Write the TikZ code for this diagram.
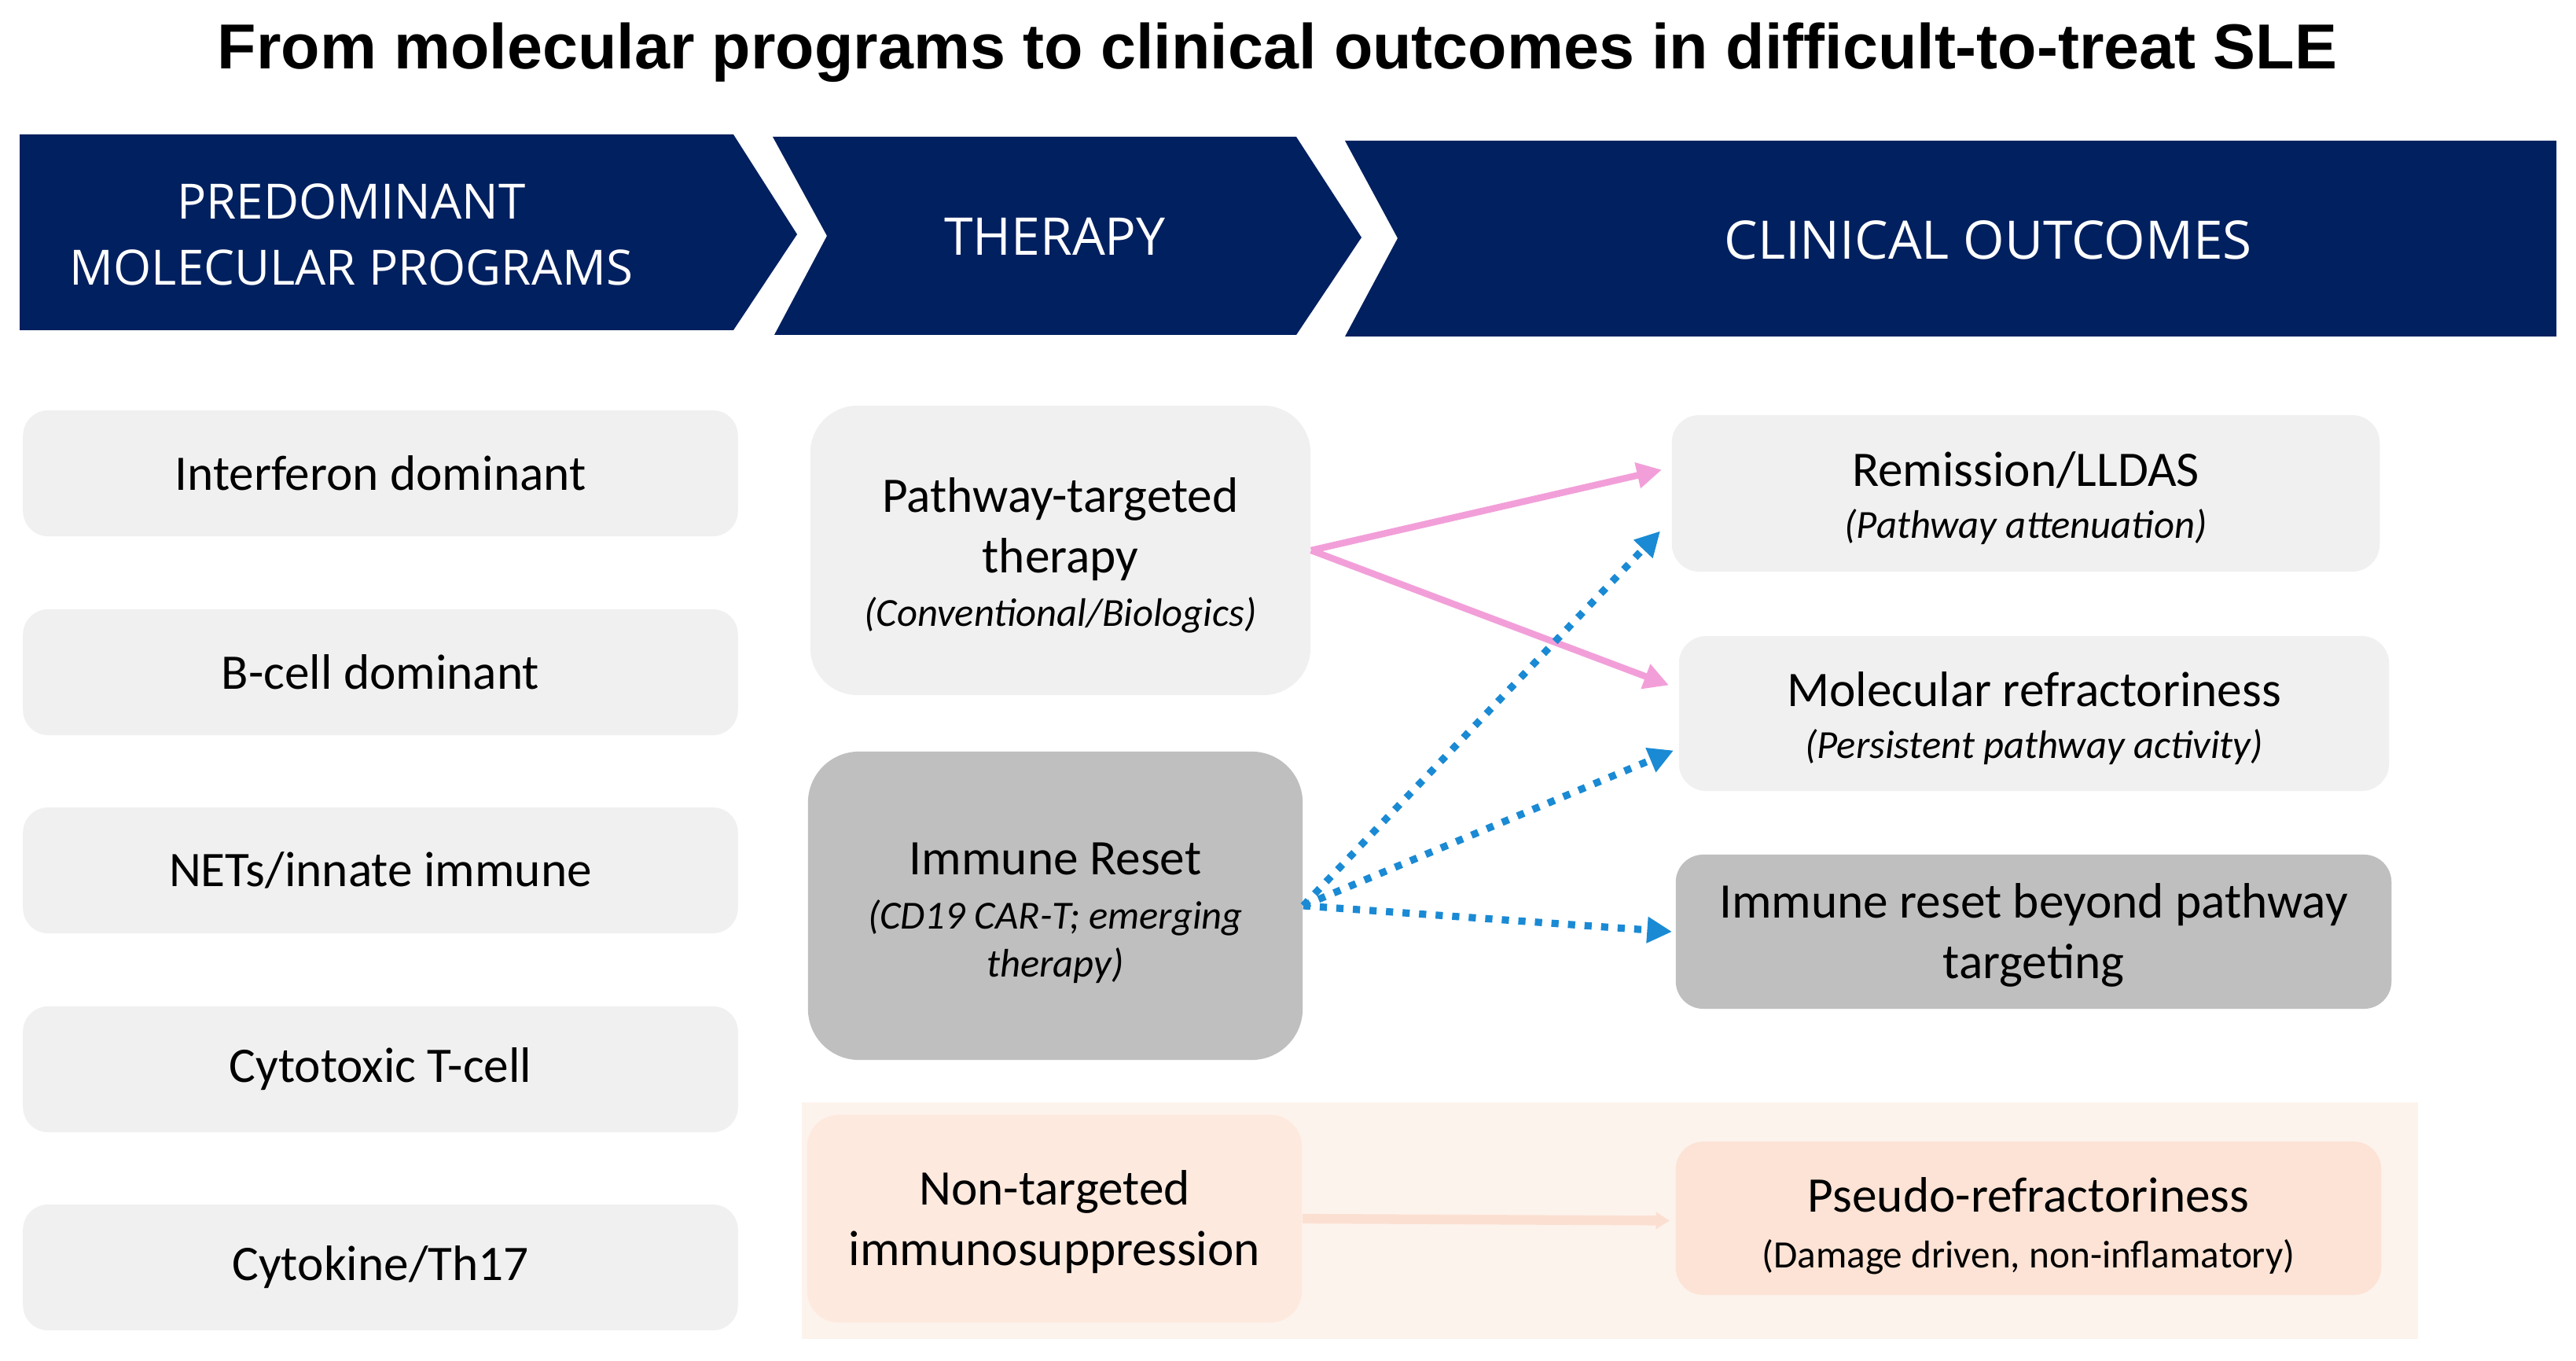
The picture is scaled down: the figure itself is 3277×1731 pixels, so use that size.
\documentclass[tikz,border=0pt]{standalone}
\usepackage{fontspec}
\setmainfont{Carlito}
\newfontfamily\hdrfont{Open Sans}
\newfontfamily\ttlfont{Liberation Sans}
\usetikzlibrary{arrows.meta,calc}
\definecolor{navy}{HTML}{002060}
\definecolor{lgray}{HTML}{F0F0F0}
\definecolor{dgray}{HTML}{BFBFBF}
\definecolor{peachA}{HTML}{FDE9DE}
\definecolor{peachB}{HTML}{FCE3D5}
\definecolor{hatchbg}{HTML}{FDF3ED}
\definecolor{peacharrc}{HTML}{FBE0D2}
\definecolor{pinkc}{HTML}{F29FD9}
\definecolor{bluec}{HTML}{1A8AD4}
\newcommand\subit[1]{{\fontsize{14.4}{17}\selectfont\itshape #1}}
\newcommand\lift[1]{\rule{0pt}{#1}}
\begin{document}
\begin{tikzpicture}[x=0.01cm,y=-0.01cm,
  body/.style={inner sep=0pt, align=center, text=black, font=\fontsize{18}{22}\selectfont},
  lbox/.style={body, fill=lgray, rounded corners=0.32cm, minimum width=9.09cm, minimum height=1.6cm},
  obox/.style={body, rounded corners=0.35cm},
  hdr/.style={text=white, inner sep=0pt, align=center},
  pinkarr/.style={draw=pinkc, line width=2.4pt, -{Triangle[length=9pt,width=9pt]}},
  bluearr/.style={draw=bluec, line width=2.6pt, dash pattern=on 2.6pt off 3.4pt, -{Triangle[length=9pt,width=9pt]}},
  peacharr/.style={draw=peacharrc, line width=3.5pt, -{Triangle[length=5pt,width=6pt]}}
]
\useasboundingbox (0,0) rectangle (3277,1731);
\fill[white] (0,0) rectangle (3277,1731);

% title
\node[font=\ttlfont\bfseries\fontsize{23}{27}\selectfont, anchor=base, inner sep=0pt] (title) at (1625,88) {From molecular programs to clinical outcomes in difficult-to-treat SLE};

% header band
\fill[navy] (25,171) -- (933,171) -- (1014,298) -- (933,420) -- (25,420) -- cycle;
\fill[navy] (983,174) -- (1649,174) -- (1732,302) -- (1649,426) -- (985,426) -- (1052,300) -- cycle;
\fill[navy] (1711,179) -- (3252,179) -- (3252,428) -- (1711,428) -- (1778,303) -- cycle;
\node[hdr, font=\hdrfont\fontsize{17.6}{23.9}\selectfont] (h1) at (447,298) {PREDOMINANT\\MOLECULAR PROGRAMS};
\node[hdr, anchor=base, font=\hdrfont\fontsize{18.8}{22}\selectfont] (h2) at (1342,325) {THERAPY};
\node[hdr, anchor=base, font=\hdrfont\fontsize{19.2}{22}\selectfont] (h3) at (2529,330) {CLINICAL OUTCOMES};

% hatched background
\fill[hatchbg] (1020,1402) rectangle (3076,1703);

% left column
\node[lbox] (l1) at (484,602) {Interferon dominant};
\node[lbox] (l2) at (484,855) {B-cell dominant};
\node[lbox] (l3) at (484,1107) {NETs/innate immune};
\node[lbox] (l4) at (484,1360) {Cytotoxic T-cell};
\node[lbox] (l5) at (484,1612) {Cytokine/Th17};

% therapy column
\node[body, fill=lgray, rounded corners=0.6cm, minimum width=6.36cm, minimum height=3.68cm] (pt) at (1349,700)
  {\lift{16pt}Pathway-targeted\\therapy\\[-2.7pt]\subit{(Conventional/Biologics)}};
\node[body, fill=dgray, rounded corners=0.65cm, minimum width=6.29cm, minimum height=3.92cm] (ir) at (1342.5,1152)
  {\lift{17pt}Immune Reset\\[-2.4pt]\subit{(CD19 CAR-T; emerging}\\[-4.6pt]\subit{therapy)}};
\node[body, fill=peachA, rounded corners=0.4cm, minimum width=6.29cm, minimum height=2.64cm] (nt) at (1341.5,1550)
  {\lift{15pt}Non-targeted\\immunosuppression};

% outcomes column
\node[obox, fill=lgray, minimum width=9.00cm, minimum height=1.99cm] (rm) at (2577,627.5)
  {\lift{16pt}Remission/LLDAS\\[-3.2pt]\subit{(Pathway attenuation)}};
\node[obox, fill=lgray, minimum width=9.03cm, minimum height=1.97cm] (mr) at (2587.5,907.5)
  {\lift{16pt}Molecular refractoriness\\[-3.2pt]\subit{(Persistent pathway activity)}};
\node[obox, fill=dgray, minimum width=9.10cm, minimum height=1.96cm] (ib) at (2587,1185)
  {\lift{15pt}Immune reset beyond pathway\\targeting};
\node[obox, fill=peachB, minimum width=8.97cm, minimum height=1.95cm] (ps) at (2580.5,1549.5)
  {\lift{18pt}Pseudo-refractoriness\\[-2pt]{\fontsize{14}{17}\selectfont (Damage driven, non-inflamatory)}};

% connectors
\draw[pinkarr] (pt.east) -- ([shift={(-12,-30)}]rm.west);
\draw[pinkarr] (pt.east) -- ([shift={(-12,-36)}]mr.west);
\draw[bluearr] (ir.east) -- ([shift={(-14,48)}]rm.west);
\draw[bluearr] (ir.east) -- ([shift={(-6,47)}]mr.west);
\draw[bluearr] (ir.east) -- ([shift={(-4,0)}]ib.west);
\draw[peacharr] (nt.east) -- ([shift={(-7,3)}]ps.west);
\end{tikzpicture}
\end{document}
